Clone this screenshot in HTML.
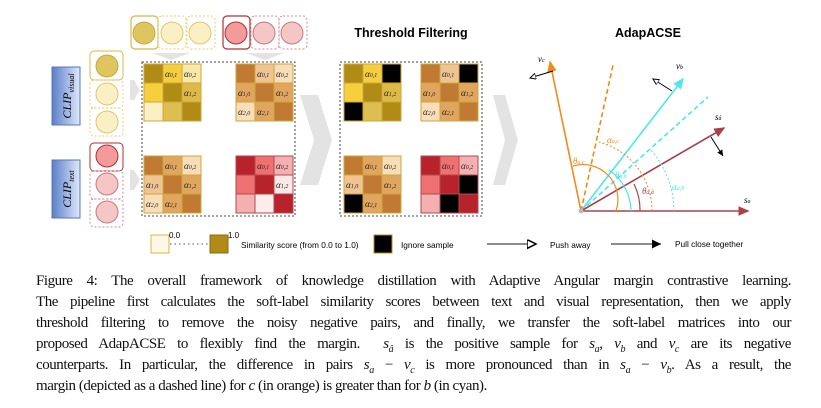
<!DOCTYPE html>
<html><head><meta charset="utf-8"><style>
body{margin:0;width:821px;height:408px;background:#fff;overflow:hidden;font-family:"Liberation Sans",sans-serif}
.cap{position:absolute;left:36px;top:271px;width:755px;font-family:"Liberation Serif",serif;font-size:15px;letter-spacing:-0.45px;line-height:21px;color:#111}
.cap div{text-align:justify;text-align-last:justify;white-space:nowrap;height:21px}
.cap div.l{text-align-last:left}
.cap sub{font-size:10px;line-height:0}
</style></head><body>
<svg width="821" height="260" style="position:absolute;left:0;top:0" font-family="Liberation Sans, sans-serif">
<defs>
<linearGradient id="clip" x1="0" x2="1"><stop offset="0" stop-color="#5a7fc8"/><stop offset="1" stop-color="#dfe8fb"/></linearGradient>
<marker id="oa" markerWidth="8" markerHeight="8" refX="6" refY="3" orient="auto"><path d="M0,0 L6,3 L0,6 Z" fill="#fff" stroke="#000" stroke-width="1"/></marker>
<marker id="ba" markerWidth="8" markerHeight="8" refX="6" refY="3" orient="auto"><path d="M0,0 L6,3 L0,6 Z" fill="#000"/></marker>
<marker id="ma" markerWidth="8" markerHeight="8" refX="6" refY="3" orient="auto"><path d="M0,0 L7,3 L0,6 Z" fill="#a8434a"/></marker>
<marker id="ca" markerWidth="8" markerHeight="8" refX="6" refY="3" orient="auto"><path d="M0,0 L7,3 L0,6 Z" fill="#4ee6f0"/></marker>
<marker id="oo" markerWidth="8" markerHeight="8" refX="6" refY="3" orient="auto"><path d="M0,0 L7,3 L0,6 Z" fill="#f08a1c"/></marker>
</defs>
<path d="M300,95 L318,95 L332,140 L318,185 L300,185 L314,140Z" fill="#e3e3e3"/>
<path d="M493,95 L505,95 L518,140 L505,185 L493,185 L505,140Z" fill="#e3e3e3"/>
<path d="M130,80 L134,80 L140,90 L134,100 L130,100Z" fill="#e3e3e3"/>
<path d="M130,170 L134,170 L140,180 L134,190 L130,190Z" fill="#e3e3e3"/>
<path d="M152,53 L190,53 L171,60Z" fill="#e3e3e3"/>
<path d="M246,53 L284,53 L265,60Z" fill="#e3e3e3"/>
<rect x="131" y="16" width="27" height="33" rx="4" fill="none" stroke="#d8b845" stroke-width="1.2"/>
<rect x="158" y="16" width="28" height="33" rx="4" fill="none" stroke="#e6cf70" stroke-dasharray="2,2"/>
<rect x="187" y="16" width="28" height="33" rx="4" fill="none" stroke="#e6cf70" stroke-dasharray="2,2"/>
<circle cx="144" cy="33" r="11" fill="#dfc560" stroke="#c8a83a"/>
<circle cx="172" cy="33" r="11" fill="#fbf0c4" stroke="#e0c66c"/>
<circle cx="200" cy="33" r="11" fill="#fbf0c4" stroke="#e0c66c"/>
<rect x="223" y="16" width="27" height="33" rx="4" fill="none" stroke="#b52d35" stroke-width="1.2"/>
<rect x="251" y="16" width="28" height="33" rx="4" fill="none" stroke="#d98a90" stroke-dasharray="2,2"/>
<rect x="279" y="16" width="28" height="33" rx="4" fill="none" stroke="#d98a90" stroke-dasharray="2,2"/>
<circle cx="236" cy="33" r="11" fill="#f39a9a" stroke="#b52d35"/>
<circle cx="264" cy="33" r="11" fill="#f4c6c6" stroke="#c8787e"/>
<circle cx="292" cy="33" r="11" fill="#f4c6c6" stroke="#c8787e"/>
<rect x="52" y="67" width="28" height="58" fill="url(#clip)" stroke="#5577b8"/>
<text transform="translate(71,96) rotate(-90)" text-anchor="middle" font-family="Liberation Serif,serif" font-style="italic" font-size="12">CLIP<tspan font-size="8" dy="3">visual</tspan></text>
<rect x="52" y="160" width="28" height="58" fill="url(#clip)" stroke="#5577b8"/>
<text transform="translate(71,189) rotate(-90)" text-anchor="middle" font-family="Liberation Serif,serif" font-style="italic" font-size="12">CLIP<tspan font-size="8" dy="3">text</tspan></text>
<rect x="90" y="51" width="33" height="29" rx="4" fill="none" stroke="#d8b845"/>
<rect x="90" y="80" width="33" height="28" rx="4" fill="none" stroke="#e6cf70" stroke-dasharray="2,2"/>
<rect x="90" y="108" width="33" height="28" rx="4" fill="none" stroke="#e6cf70" stroke-dasharray="2,2"/>
<circle cx="107" cy="66" r="11" fill="#dfc560" stroke="#c8a83a"/>
<circle cx="107" cy="94" r="11" fill="#fbf0c4" stroke="#e0c66c"/>
<circle cx="107" cy="122" r="11" fill="#fbf0c4" stroke="#e0c66c"/>
<rect x="90" y="143" width="33" height="28" rx="4" fill="none" stroke="#b52d35"/>
<rect x="90" y="171" width="33" height="28" rx="4" fill="none" stroke="#d98a90" stroke-dasharray="2,2"/>
<rect x="90" y="199" width="33" height="28" rx="4" fill="none" stroke="#d98a90" stroke-dasharray="2,2"/>
<circle cx="107" cy="156" r="11" fill="#f39a9a" stroke="#b52d35"/>
<circle cx="107" cy="184" r="11" fill="#f4c6c6" stroke="#c8787e"/>
<circle cx="107" cy="212" r="11" fill="#f4c6c6" stroke="#c8787e"/>
<rect x="142" y="62" width="153" height="154" fill="none" stroke="#444" stroke-dasharray="2,2"/>
<rect x="340" y="62" width="142" height="154" fill="none" stroke="#444" stroke-dasharray="2,2"/>
<g font-family="Liberation Serif,serif" font-style="italic" font-size="9" fill="#222">
<g stroke="#d0a53a" stroke-width="1">
<rect x="144" y="64" width="19" height="19" fill="#b08c16"/><rect x="163" y="64" width="19" height="19" fill="#f3cf3f"/><rect x="182" y="64" width="19" height="19" fill="#f8e8a8"/>
<rect x="144" y="83" width="19" height="19" fill="#f6cf3c"/><rect x="163" y="83" width="19" height="19" fill="#b08c16"/><rect x="182" y="83" width="19" height="19" fill="#dcba45"/>
<rect x="144" y="102" width="19" height="19" fill="#fbf0c4"/><rect x="163" y="102" width="19" height="19" fill="#dcbf50"/><rect x="182" y="102" width="19" height="19" fill="#b08c16"/>
<rect x="236" y="64" width="19" height="19" fill="#c17a34"/><rect x="255" y="64" width="19" height="19" fill="#eec592"/><rect x="274" y="64" width="19" height="19" fill="#f7ddb8"/>
<rect x="236" y="83" width="19" height="19" fill="#e0a55e"/><rect x="255" y="83" width="19" height="19" fill="#c17a34"/><rect x="274" y="83" width="19" height="19" fill="#e0a55e"/>
<rect x="236" y="102" width="19" height="19" fill="#f7ddb8"/><rect x="255" y="102" width="19" height="19" fill="#e0a55e"/><rect x="274" y="102" width="19" height="19" fill="#c17a34"/>
<rect x="144" y="156" width="19" height="19" fill="#c17a34"/><rect x="163" y="156" width="19" height="19" fill="#e0a55e"/><rect x="182" y="156" width="19" height="19" fill="#f7ddb8"/>
<rect x="144" y="175" width="19" height="19" fill="#eec592"/><rect x="163" y="175" width="19" height="19" fill="#c17a34"/><rect x="182" y="175" width="19" height="19" fill="#e0a55e"/>
<rect x="144" y="194" width="19" height="19" fill="#f7ddb8"/><rect x="163" y="194" width="19" height="19" fill="#e0a55e"/><rect x="182" y="194" width="19" height="19" fill="#c17a34"/>
<rect x="344" y="64" width="19" height="19" fill="#b08c16"/><rect x="363" y="64" width="19" height="19" fill="#f3cf3f"/><rect x="382" y="64" width="19" height="19" fill="#000"/>
<rect x="344" y="83" width="19" height="19" fill="#f6cf3c"/><rect x="363" y="83" width="19" height="19" fill="#b08c16"/><rect x="382" y="83" width="19" height="19" fill="#dcba45"/>
<rect x="344" y="102" width="19" height="19" fill="#000"/><rect x="363" y="102" width="19" height="19" fill="#dcbf50"/><rect x="382" y="102" width="19" height="19" fill="#b08c16"/>
<rect x="421" y="64" width="19" height="19" fill="#c17a34"/><rect x="440" y="64" width="19" height="19" fill="#eec592"/><rect x="459" y="64" width="19" height="19" fill="#000"/>
<rect x="421" y="83" width="19" height="19" fill="#e0a55e"/><rect x="440" y="83" width="19" height="19" fill="#c17a34"/><rect x="459" y="83" width="19" height="19" fill="#e0a55e"/>
<rect x="421" y="102" width="19" height="19" fill="#f7ddb8"/><rect x="440" y="102" width="19" height="19" fill="#e0a55e"/><rect x="459" y="102" width="19" height="19" fill="#c17a34"/>
<rect x="344" y="156" width="19" height="19" fill="#c17a34"/><rect x="363" y="156" width="19" height="19" fill="#e0a55e"/><rect x="382" y="156" width="19" height="19" fill="#f7ddb8"/>
<rect x="344" y="175" width="19" height="19" fill="#eec592"/><rect x="363" y="175" width="19" height="19" fill="#c17a34"/><rect x="382" y="175" width="19" height="19" fill="#e0a55e"/>
<rect x="344" y="194" width="19" height="19" fill="#000"/><rect x="363" y="194" width="19" height="19" fill="#e0a55e"/><rect x="382" y="194" width="19" height="19" fill="#c17a34"/>
</g>
<g stroke="#b04a50" stroke-width="1">
<rect x="236" y="156" width="19" height="19" fill="#b8222a"/><rect x="255" y="156" width="19" height="19" fill="#ee7070"/><rect x="274" y="156" width="19" height="19" fill="#f4b0b0"/>
<rect x="236" y="175" width="19" height="19" fill="#ee7070"/><rect x="255" y="175" width="19" height="19" fill="#b8222a"/><rect x="274" y="175" width="19" height="19" fill="#fbe8e8"/>
<rect x="236" y="194" width="19" height="19" fill="#f4b0b0"/><rect x="255" y="194" width="19" height="19" fill="#fcecec"/><rect x="274" y="194" width="19" height="19" fill="#b8222a"/>
<rect x="421" y="156" width="19" height="19" fill="#b8222a"/><rect x="440" y="156" width="19" height="19" fill="#ee7070"/><rect x="459" y="156" width="19" height="19" fill="#f4b0b0"/>
<rect x="421" y="175" width="19" height="19" fill="#ee7070"/><rect x="440" y="175" width="19" height="19" fill="#b8222a"/><rect x="459" y="175" width="19" height="19" fill="#000"/>
<rect x="421" y="194" width="19" height="19" fill="#f4b0b0"/><rect x="440" y="194" width="19" height="19" fill="#000"/><rect x="459" y="194" width="19" height="19" fill="#b8222a"/>
</g>
<text x="165" y="77">α<tspan font-size="6">0,1</tspan></text><text x="184" y="77">α<tspan font-size="6">0,2</tspan></text><text x="184" y="96">α<tspan font-size="6">1,2</tspan></text>
<text x="257" y="77">α<tspan font-size="6">0,1</tspan></text><text x="276" y="77">α<tspan font-size="6">0,2</tspan></text><text x="238" y="96">α<tspan font-size="6">1,0</tspan></text><text x="276" y="96">α<tspan font-size="6">1,2</tspan></text><text x="238" y="115">α<tspan font-size="6">2,0</tspan></text><text x="257" y="115">α<tspan font-size="6">2,1</tspan></text>
<text x="165" y="169">α<tspan font-size="6">0,1</tspan></text><text x="184" y="169">α<tspan font-size="6">0,2</tspan></text><text x="146" y="188">α<tspan font-size="6">1,0</tspan></text><text x="184" y="188">α<tspan font-size="6">1,2</tspan></text><text x="146" y="207">α<tspan font-size="6">2,0</tspan></text><text x="165" y="207">α<tspan font-size="6">2,1</tspan></text>
<text x="257" y="169">α<tspan font-size="6">0,1</tspan></text><text x="276" y="169">α<tspan font-size="6">0,2</tspan></text><text x="276" y="188">α<tspan font-size="6">1,2</tspan></text>
<text x="365" y="77">α<tspan font-size="6">0,1</tspan></text><text x="384" y="96">α<tspan font-size="6">1,2</tspan></text>
<text x="442" y="77">α<tspan font-size="6">0,1</tspan></text><text x="423" y="96">α<tspan font-size="6">1,0</tspan></text><text x="461" y="96">α<tspan font-size="6">1,2</tspan></text><text x="423" y="115">α<tspan font-size="6">2,0</tspan></text><text x="442" y="115">α<tspan font-size="6">2,1</tspan></text>
<text x="365" y="169">α<tspan font-size="6">0,1</tspan></text><text x="384" y="169">α<tspan font-size="6">0,2</tspan></text><text x="346" y="188">α<tspan font-size="6">1,0</tspan></text><text x="384" y="188">α<tspan font-size="6">1,2</tspan></text><text x="365" y="207">α<tspan font-size="6">2,1</tspan></text>
<text x="442" y="169">α<tspan font-size="6">0,1</tspan></text><text x="461" y="169">α<tspan font-size="6">0,2</tspan></text>
</g>
<text x="411" y="37" text-anchor="middle" font-weight="bold" font-size="12.5">Threshold Filtering</text>
<text x="648" y="37" text-anchor="middle" font-weight="bold" font-size="12.5">AdapACSE</text>
<g fill="none">
<path d="M581,211 L613,65" stroke="#f08a1c" stroke-width="1.6" stroke-dasharray="5,3"/>
<path d="M581,211 L708,97" stroke="#4ee6f0" stroke-width="1.6" stroke-dasharray="5,3"/>
<path d="M581,211 L550,62" stroke="#f08a1c" stroke-width="1.6" marker-end="url(#oo)"/>
<path d="M581,211 L683,79" stroke="#4ee6f0" stroke-width="1.6" marker-end="url(#ca)"/>
<path d="M581,211 L724,128" stroke="#a8434a" stroke-width="1.6" marker-end="url(#ma)"/>
<path d="M581,211 L748,211" stroke="#a8434a" stroke-width="1.6" marker-end="url(#ma)"/>
<path d="M616,211 A35,35 0 0 0 573,166" stroke="#f08a1c" stroke-width="1.2"/>
<path d="M631,211 A50,50 0 0 0 609,170" stroke="#4ee6f0" stroke-width="1.2"/>
<path d="M640,211 A59,59 0 0 0 634,184" stroke="#a8434a" stroke-width="1.2"/>
<path d="M652,211 A71,71 0 0 0 599,142" stroke="#f08a1c" stroke-dasharray="2,2"/>
<path d="M674,211 A93,93 0 0 0 650,149" stroke="#4ee6f0" stroke-dasharray="2,2"/>
<path d="M553,71 L530,78" stroke="#000" marker-end="url(#oa)"/>
<path d="M672,91 L653,79" stroke="#000" marker-end="url(#oa)"/>
<path d="M711,137 L723,156" stroke="#000" marker-end="url(#ba)"/>
</g>
<circle cx="581" cy="211" r="2.5" fill="#bbb"/>
<g font-family="Liberation Serif,serif" font-style="italic" font-size="9">
<text x="538" y="62">v<tspan font-size="6">c</tspan></text>
<text x="676" y="69">v<tspan font-size="6">b</tspan></text>
<text x="715" y="120">s<tspan font-size="6">â</tspan></text>
<text x="744" y="203">s<tspan font-size="6">a</tspan></text>
<text x="573" y="164" fill="#f08a1c">θ<tspan font-size="6">a,c</tspan></text>
<text x="615" y="178" fill="#4ee6f0">θ<tspan font-size="6">a,b</tspan></text>
<text x="642" y="194" fill="#a8434a">θ<tspan font-size="6">a,â</tspan></text>
<text x="607" y="143" fill="#f08a1c">α<tspan font-size="6">a,c</tspan></text>
<text x="672" y="190" fill="#4ee6f0">α<tspan font-size="6">a,b</tspan></text>
</g>
<rect x="151" y="235" width="18" height="18" fill="#fdf8e6" stroke="#d8b845"/>
<line x1="170" y1="244" x2="209" y2="244" stroke="#555" stroke-dasharray="1.5,3"/>
<rect x="210" y="235" width="18" height="18" fill="#b08c16" stroke="#8a6c10"/>
<text x="169" y="238" font-size="8">0.0</text><text x="228" y="238" font-size="8">1.0</text>
<text x="241" y="248" font-size="8.3">Similarity score (from 0.0 to 1.0)</text>
<rect x="374" y="235" width="18" height="18" fill="#000" stroke="#b08c16"/>
<text x="401" y="248" font-size="8.3">Ignore sample</text>
<line x1="487" y1="244" x2="536" y2="244" stroke="#666" stroke-width="1.5" marker-end="url(#oa)"/>
<text x="550" y="248" font-size="8.3">Push away</text>
<line x1="611" y1="244" x2="661" y2="244" stroke="#666" stroke-width="1.5" marker-end="url(#ba)"/>
<text x="675" y="247" font-size="8.3">Pull close together</text>
</svg>
<div class="cap">
<div>Figure 4: The overall framework of knowledge distillation with Adaptive Angular margin contrastive learning.</div>
<div>The pipeline first calculates the soft-label similarity scores between text and visual representation, then we apply</div>
<div>threshold filtering to remove the noisy negative pairs, and finally, we transfer the soft-label matrices into our</div>
<div>proposed AdapACSE to flexibly find the margin. &nbsp;<i>s<sub>â</sub></i> is the positive sample for <i>s<sub>a</sub></i>, <i>v<sub>b</sub></i> and <i>v<sub>c</sub></i> are its negative</div>
<div>counterparts. In particular, the difference in pairs <i>s<sub>a</sub></i> − <i>v<sub>c</sub></i> is more pronounced than in <i>s<sub>a</sub></i> − <i>v<sub>b</sub></i>. As a result, the</div>
<div class="l">margin (depicted as a dashed line) for <i>c</i> (in orange) is greater than for <i>b</i> (in cyan).</div>
</div>
</body></html>
